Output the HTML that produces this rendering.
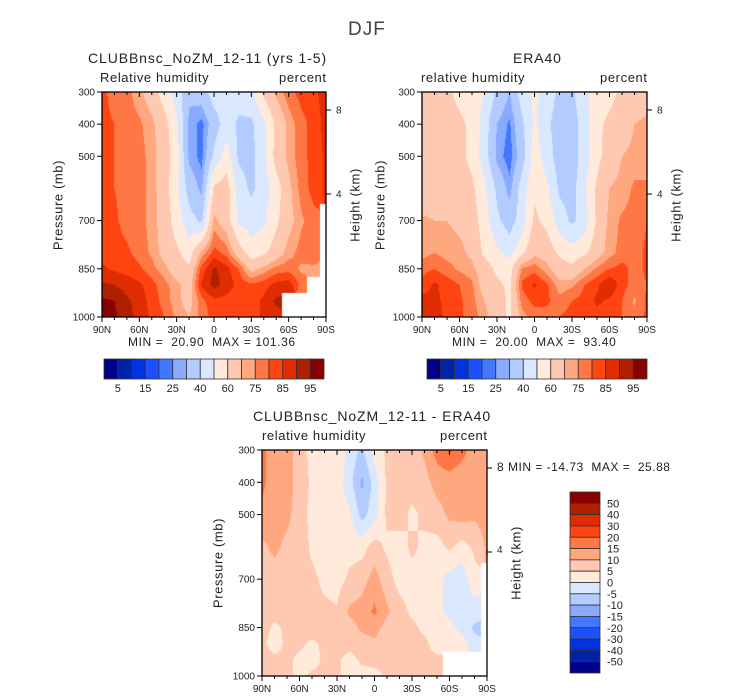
<!DOCTYPE html>
<html><head><meta charset="utf-8">
<style>
body{margin:0;background:#fff;width:733px;height:699px;overflow:hidden;position:relative;font-family:"Liberation Sans",sans-serif;color:#222}
.t{position:absolute;white-space:nowrap;line-height:1}
canvas{position:absolute}
svg{position:absolute;left:0;top:0}
</style></head><body>
<canvas id="c1" width="224" height="225" style="left:102px;top:92px"></canvas>
<canvas id="c2" width="225" height="225" style="left:422px;top:92px"></canvas>
<canvas id="c3" width="225" height="226" style="left:262px;top:450px"></canvas>
<svg id="ov" width="733" height="699"></svg>
<script>
// grid: latitudes (90N..90S) and pressure levels
const lats=[90,80,70,60,50,40,30,20,10,0,-10,-20,-30,-40,-50,-60,-70,-80,-90];
const pres=[300,400,500,600,700,800,850,900,950,1000];
const colors=['#00008a','#0022aa','#0033dd','#1e4fff','#4477ff','#88aaff','#b3ccff','#d9e8ff','#ffeadb','#ffc8b0','#ffa880','#ff7744','#ff4411','#e02c00','#b02000','#880000'];
const rhLevels=[5,10,15,20,25,30,40,50,60,70,75,80,85,90,95];
const diffLevels=[-50,-40,-30,-20,-15,-10,-5,0,5,10,15,20,30,40,50];
const rhLabels=['5','15','25','40','60','75','85','95'];
const diffLabels=['50','40','30','20','15','10','5','0','-5','-10','-15','-20','-30','-40','-50'];
const N=NaN;
const model=[
[82,77,77,72,65,55,45,32,35,45,45,45,48,62,72,78,82,84,87],
[82,80,77,76,72,64,52,28,23,35,45,38,38,48,62,72,78,82,87],
[81,80,78,77,73,65,55,28,23,42,55,38,37,47,64,72,78,82,86],
[82,80,78,77,73,65,52,36,28,62,65,45,38,45,55,68,77,82,86],
[82,81,78,77,73,66,55,44,38,72,65,48,45,48,58,67,74,78,N],
[83,82,81,78,74,67,62,55,72,82,78,65,55,58,65,73,77,78,N],
[86,84,83,81,77,72,65,62,82,91,87,80,67,72,77,78,74,74,N],
[91,90,88,86,82,77,72,66,86,92,88,83,81,83,87,88,78,N,N],
[96,95,91,88,83,78,72,67,78,84,83,82,83,86,91,N,N,N,N],
[96,96,92,88,84,80,74,70,77,82,83,82,83,86,88,N,N,N,N]];
const era=[
[65,65,62,57,55,50,38,30,45,52,45,38,38,48,55,57,62,63,65],
[65,65,65,62,58,45,30,24,38,52,42,35,35,45,58,62,65,70,72],
[65,65,65,63,57,45,28,22,35,55,45,35,35,45,57,65,70,72,72],
[65,66,68,65,62,52,38,27,45,58,52,38,36,48,62,70,72,76,76],
[71,70,70,68,65,55,42,35,45,62,57,45,38,45,62,72,76,77,80],
[73,75,73,72,68,58,52,47,58,68,66,58,55,58,66,73,77,78,81],
[78,80,77,74,72,65,58,55,76,78,72,65,62,70,76,80,82,78,81],
[82,86,83,80,76,66,62,58,81,86,81,72,74,80,84,90,82,78,80],
[87,86,84,81,77,70,65,58,77,82,81,77,80,82,86,84,80,74,81],
[88,87,84,81,78,72,66,58,73,77,78,80,82,83,83,82,80,77,81]];
const diff=[
[16,13,12,8,3,3,4,-2,-6,2,6,8,7,11,17,21,17,12,13],
[16,13,12,8,4,3,3,-3,-11,-3,6,7,7,8,12,12,11,13,13],
[14,12,11,8,3,3,2,1,-7,-2,6,7,4,6,8,11,12,11,12],
[9,11,9,8,4,3,2,3,3,7,4,3,6,4,3,6,3,6,11],
[8,8,8,7,6,4,3,6,8,12,7,3,3,3,2,-2,-3,3,N],
[7,7,7,6,6,6,5.5,11,12,16,11,7,4,3,2,-2,-3,-2,N],
[7,4,6,6,8,7,7,8,11,12,8,7,6,4,3,2,-2,-6,N],
[6,3,6,6,4,6,7,7,8,9,7,7,6,6,3,2,3,-3,N],
[7,6,6,4,3,6,6,3,6,7,6,7,6,6,6,N,N,N,N],
[6,6,6,4,6,6,6,3,3,3,6,6,6,6,6,N,N,N,N]];

function draw(id,field,levels){
  const cv=document.getElementById(id),ctx=cv.getContext('2d');
  const W=cv.width,H=cv.height,img=ctx.createImageData(W,H);
  const rgb=colors.map(c=>[parseInt(c.substr(1,2),16),parseInt(c.substr(3,2),16),parseInt(c.substr(5,2),16)]);
  for(let y=0;y<H;y++){
    const p=300+700*(y+0.5)/H;
    let j=0;while(j<pres.length-2&&p>pres[j+1])j++;
    const fy=(p-pres[j])/(pres[j+1]-pres[j]);
    for(let x=0;x<W;x++){
      const l=90-180*(x+0.5)/W;
      const fi=(90-l)/10;let i=Math.min(Math.floor(fi),lats.length-2);const fx=fi-i;
      const ni=Math.round(fi),nj=fy<0.5?j:j+1;
      const k=(y*W+x)*4;
      if(isNaN(field[nj][ni])){img.data[k]=img.data[k+1]=img.data[k+2]=255;img.data[k+3]=255;continue;}
      const g=(a,b)=>{const v=field[a][b];return isNaN(v)?field[nj][ni]:v;};
      const v=(1-fy)*((1-fx)*g(j,i)+fx*g(j,i+1))+fy*((1-fx)*g(j+1,i)+fx*g(j+1,i+1));
      let c=0;while(c<levels.length&&v>=levels[c])c++;
      img.data[k]=rgb[c][0];img.data[k+1]=rgb[c][1];img.data[k+2]=rgb[c][2];img.data[k+3]=255;
    }
  }
  ctx.putImageData(img,0,0);
}
draw('c1',model,rhLevels);draw('c2',era,rhLevels);draw('c3',diff,diffLevels);

const NS='http://www.w3.org/2000/svg',ov=document.getElementById('ov');
function el(tag,attrs,txt){const e=document.createElementNS(NS,tag);for(const a in attrs)e.setAttribute(a,attrs[a]);if(txt!==undefined)e.textContent=txt;ov.appendChild(e);return e;}
const xLabels=['90N','60N','30N','0','30S','60S','90S'];
const pLabels=[300,400,500,700,850,1000];
function axes(x0,y0,w,h,name,hx){
  const r=el('rect',{x:x0,y:y0,width:w,height:h,fill:'none',stroke:'#000','stroke-width':1.3});
  
  
  for(let d=0;d<=18;d++){
    const x=x0+w*d/18,major=d%3==0;
    el('line',{x1:x,x2:x,y1:y0+h,y2:y0+h+(major?5:3),stroke:'#000'});
    el('line',{x1:x,x2:x,y1:y0,y2:y0+(major?5:3),stroke:'#000'});
  }
  xLabels.forEach((s,i)=>{const t=el('text',{x:x0+w*i/6,y:y0+h+16,'font-size':10,'text-anchor':'middle',fill:'#222','font-family':'Liberation Sans'},s);
    
    });
  pLabels.forEach(p=>{const y=y0+h*(p-300)/700;
    el('line',{x1:x0-5,x2:x0,y1:y,y2:y,stroke:'#000'});
    const t=el('text',{x:x0-7,y:y+3.5,'font-size':10,'text-anchor':'end',fill:'#222','font-family':'Liberation Sans'},p);
    
    });
  [[8,18],[4,102]].forEach(([k,dy])=>{el('line',{x1:x0+w,x2:x0+w+5,y1:y0+dy,y2:y0+dy,stroke:'#000'});
    if(hx!==false){const t=el('text',{x:x0+w+10,y:y0+dy+3.5,'font-size':10,fill:'#222','font-family':'Liberation Sans'},k);
    
    }});
}
axes(102,92,224,225,'model-panel');
axes(422,92,225,225,'era40-panel');
axes(262,450,225,226,'diff-panel',false);
function hbar(x0,y0,name){
  const bw=13.75;
  colors.forEach((c,i)=>{const r=el('rect',{x:x0+i*bw,y:y0,width:bw,height:20,fill:c,stroke:'#333','stroke-width':0.8});
    
    });
  rhLabels.forEach((s,i)=>{const t=el('text',{x:x0+(2*i+1)*bw,y:y0+33,'font-size':11,'text-anchor':'middle',fill:'#222','font-family':'Liberation Sans'},s);
    
    });
}
hbar(104,359,'model-colorbar');hbar(427,359,'era40-colorbar');
const bh=181/16;
colors.slice().reverse().forEach((c,i)=>{const r=el('rect',{x:570,y:492+i*bh,width:30,height:bh,fill:c,stroke:'#333','stroke-width':0.8});
  
  });
diffLabels.forEach((s,i)=>{const t=el('text',{x:607,y:492+(i+1)*bh+4,'font-size':11,fill:'#222','font-family':'Liberation Sans'},s);
  
  });
</script>
<div class="t" style="left:348px;top:20px;font-size:19px;letter-spacing:1px;color:#444">DJF</div>
<div class="t" style="left:88px;top:51px;font-size:14px;letter-spacing:0.9px">CLUBBnsc_NoZM_12-11 (yrs 1-5)</div>
<div class="t" style="left:100px;top:71px;font-size:13px;letter-spacing:0.6px">Relative humidity</div>
<div class="t" style="left:279px;top:71px;font-size:13px;letter-spacing:0.6px">percent</div>
<div class="t" style="left:128px;top:336px;font-size:12px;letter-spacing:0.6px">MIN = &nbsp;20.90 &nbsp;MAX = 101.36</div>
<div class="t" style="left:513px;top:51px;font-size:14px;letter-spacing:0.9px">ERA40</div>
<div class="t" style="left:421px;top:71px;font-size:13px;letter-spacing:0.6px">relative humidity</div>
<div class="t" style="left:600px;top:71px;font-size:13px;letter-spacing:0.6px">percent</div>
<div class="t" style="left:452px;top:336px;font-size:12px;letter-spacing:0.6px">MIN = &nbsp;20.00 &nbsp;MAX = &nbsp;93.40</div>
<div class="t" style="left:253px;top:409px;font-size:14px;letter-spacing:0.9px">CLUBBnsc_NoZM_12-11 - ERA40</div>
<div class="t" style="left:262px;top:429px;font-size:13px;letter-spacing:0.6px">relative humidity</div>
<div class="t" style="left:440px;top:429px;font-size:13px;letter-spacing:0.6px">percent</div>
<div class="t" style="left:497px;top:461px;font-size:12px;letter-spacing:0.5px">8 MIN = -14.73 &nbsp;MAX = &nbsp;25.88</div>
<div class="t" style="left:497px;top:546px;font-size:10px">4</div>
<div class="t" style="left:58px;top:205px;font-size:13px;letter-spacing:0.6px;transform:translate(-50%,-50%) rotate(-90deg)">Pressure (mb)</div>
<div class="t" style="left:355px;top:205px;font-size:13px;letter-spacing:0.6px;transform:translate(-50%,-50%) rotate(-90deg)">Height (km)</div>
<div class="t" style="left:380px;top:205px;font-size:13px;letter-spacing:0.6px;transform:translate(-50%,-50%) rotate(-90deg)">Pressure (mb)</div>
<div class="t" style="left:676px;top:205px;font-size:13px;letter-spacing:0.6px;transform:translate(-50%,-50%) rotate(-90deg)">Height (km)</div>
<div class="t" style="left:218px;top:563px;font-size:13px;letter-spacing:0.6px;transform:translate(-50%,-50%) rotate(-90deg)">Pressure (mb)</div>
<div class="t" style="left:516px;top:563px;font-size:13px;letter-spacing:0.6px;transform:translate(-50%,-50%) rotate(-90deg)">Height (km)</div>
</body></html>
